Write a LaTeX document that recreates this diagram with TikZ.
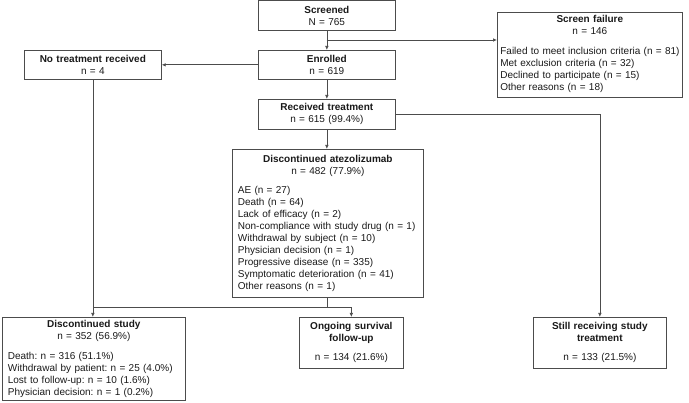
\documentclass[tikz,border=0pt]{standalone}
\usepackage{fontspec}
\setmainfont{Liberation Sans}
\usetikzlibrary{arrows.meta}
\frenchspacing
\begin{document}
\begin{tikzpicture}[x=1pt,y=-1pt,
  flowbox/.style={draw=black!70, line width=0.7pt, anchor=north west, inner xsep=5.5pt, inner ysep=2pt, font=\fontsize{10}{12}\selectfont, text=black!90},
  link/.style={draw=black!70, line width=0.7pt},
  arr/.style={link, -{Latex[length=4pt,width=3.5pt]}}]
\useasboundingbox (0,0) rectangle (689,403);

\node[flowbox, text width=126pt, minimum height=30pt, align=center] (screened) at (258,0.5) {\textbf{Screened}\\N = 765};
\node[flowbox, text width=126pt, minimum height=29pt, align=center] (enrolled) at (258,50) {\textbf{Enrolled}\\n = 619};
\node[flowbox, text width=126pt, minimum height=30pt, align=center] (rectx) at (258,99) {\textbf{Received treatment}\\n = 615 (99.4\%)};
\node[flowbox, text width=126pt, minimum height=29pt, align=center] (notrt) at (24,50) {\textbf{No treatment received}\\n = 4};
\node[flowbox, inner xsep=3pt, text width=179pt, minimum height=85pt, align=left] (scrfail) at (497,12) {{\centering\textbf{Screen failure}\\n = 146\par}\vspace{11pt}\begin{tabular}{@{}l@{}}Failed to meet inclusion criteria (n = 81)\\Met exclusion criteria (n = 32)\\Declined to participate (n = 15)\\Other reasons (n = 18)\end{tabular}};
\node[flowbox, text width=180pt, minimum height=148pt, align=left] (discatz) at (232,149) {{\centering\textbf{Discontinued atezolizumab}\\n = 482 (77.9\%)\par}\vspace{7pt}AE (n = 27)\\Death (n = 64)\\Lack of efficacy (n = 2)\\Non-compliance with study drug (n = 1)\\Withdrawal by subject (n = 10)\\Physician decision (n = 1)\\Progressive disease (n = 335)\\Symptomatic deterioration (n = 41)\\Other reasons (n = 1)};
\node[flowbox, text width=172pt, minimum height=83pt, align=left] (discst) at (2,317) {{\centering\textbf{Discontinued study}\\n = 352 (56.9\%)\par}\vspace{8pt}Death: n = 316 (51.1\%)\\Withdrawal by patient: n = 25 (4.0\%)\\Lost to follow-up: n = 10 (1.6\%)\\Physician decision: n = 1 (0.2\%)};
\node[flowbox, text width=93pt, minimum height=51pt, align=center] (ongoing) at (299,317) {\textbf{Ongoing survival}\\\textbf{follow-up}\\[7pt]n = 134 (21.6\%)};
\node[flowbox, text width=122pt, minimum height=51pt, align=center] (still) at (533,317) {\textbf{Still receiving study}\\\textbf{treatment}\\[7pt]n = 133 (21.5\%)};

\coordinate (split1) at (326.5,40);
\coordinate (split2) at (327.5,307);
\draw[arr] (screened) -- (enrolled);
\draw[arr] (split1) -- (split1 -| scrfail.west);
\draw[arr] (enrolled) -- (notrt);
\draw[arr] (enrolled) -- (rectx);
\draw[arr] (rectx) -- (discatz.north -| rectx.south);
\draw[arr] (rectx.east) -| (still.north);
\draw[arr] (notrt.south) -- (notrt.south |- discst.north);
\draw[link] (discatz.south -| split2) -- (split2) -- (split2 -| notrt.south);
\draw[arr] (split2) -| (ongoing.north);
\end{tikzpicture}
\end{document}
